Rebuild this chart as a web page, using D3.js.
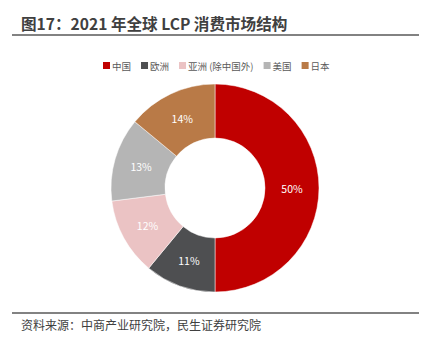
<!DOCTYPE html>
<html>
<head>
<meta charset="utf-8">
<script src="https://cdn.jsdelivr.net/npm/d3@7/dist/d3.min.js"></script>
<style>
  html, body { margin: 0; padding: 0; background: #fff; }
  svg { display: block; font-family: "Noto Sans CJK SC", "Noto Sans", sans-serif; }
</style>
</head>
<body>
<svg id="chart" width="429" height="344"></svg>
<script>
// Market share of LCP consumption by region, 2021 (%)
const regions = ["中国", "欧洲", "亚洲 (除中国外)", "美国", "日本"];
const shares = [50, 11, 12, 13, 14];
const colors = ["#C00000", "#4E4F51", "#EBC3C4", "#B5B5B5", "#B97A47"];

const titleText = "图17：2021 年全球 LCP 消费市场结构";
const sourceText = "资料来源：中商产业研究院，民生证券研究院";

const svg = d3.select("#chart");

// Title and rules
svg.append("text")
  .attr("x", 21).attr("y", 30)
  .attr("font-size", 15.6).attr("font-weight", "bold")
  .attr("fill", "#404040")
  .text(titleText);

svg.append("line")
  .attr("x1", 12).attr("x2", 419)
  .attr("y1", 35).attr("y2", 35)
  .attr("stroke", "#595959").attr("stroke-width", 1.5);

svg.append("line")
  .attr("x1", 12).attr("x2", 419)
  .attr("y1", 313).attr("y2", 313)
  .attr("stroke", "#595959").attr("stroke-width", 1.5);

svg.append("text")
  .attr("x", 21).attr("y", 330)
  .attr("font-size", 12)
  .attr("fill", "#404040")
  .text(sourceText);

// Legend
const legend = svg.append("g").attr("font-size", 9.5).attr("fill", "#595959");
let lx = 103;
regions.forEach((name, i) => {
  const g = legend.append("g").attr("transform", `translate(${lx},62)`);
  g.append("rect").attr("width", 7).attr("height", 7).attr("fill", colors[i]);
  const t = g.append("text").attr("x", 9).attr("y", 7.5).text(name);
  const w = t.node().getComputedTextLength();
  lx += 9 + w + 10;
});

// Donut
const cx = 215, cy = 188, rOuter = 104, rInner = 50;
const pie = d3.pie().sort(null).value(d => d.value);
const arcs = pie(regions.map((r, i) => ({ name: r, value: shares[i], color: colors[i] })));
const arc = d3.arc().innerRadius(rInner).outerRadius(rOuter);
const labelArc = d3.arc().innerRadius((rInner + rOuter) / 2).outerRadius((rInner + rOuter) / 2);

const g = svg.append("g").attr("transform", `translate(${cx},${cy})`);
g.selectAll("path").data(arcs).join("path")
  .attr("d", arc)
  .attr("fill", d => d.data.color)
  .attr("stroke", "#fff").attr("stroke-width", 0.5);

g.selectAll("text").data(arcs).join("text")
  .attr("transform", d => `translate(${labelArc.centroid(d)})`)
  .attr("text-anchor", "middle")
  .attr("dominant-baseline", "central")
  .attr("font-size", 10.5)
  .attr("fill", "#fff")
  .text(d => d.data.value + "%");
</script>
</body>
</html>
